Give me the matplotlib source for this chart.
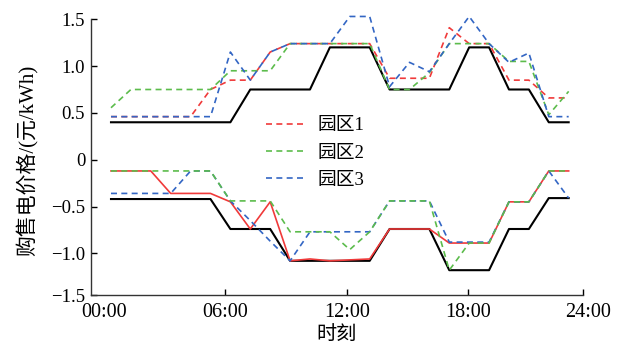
import numpy as np
import matplotlib
matplotlib.use("Agg")
import matplotlib.pyplot as plt

plt.rcParams['font.family'] = ['Liberation Serif', 'Noto Sans CJK SC', 'DejaVu Sans']
plt.rcParams['axes.unicode_minus'] = True

# hourly periods (index 0..23)
periods = np.arange(24)

grid_buy = [0.40, 0.40, 0.40, 0.40, 0.40, 0.40, 0.40, 0.75, 0.75, 0.75, 0.75, 1.20,
            1.20, 1.20, 0.75, 0.75, 0.75, 0.75, 1.20, 1.20, 0.75, 0.75, 0.40, 0.40]
grid_sell = [-0.42, -0.42, -0.42, -0.42, -0.42, -0.42, -0.74, -0.74, -0.74, -1.08, -1.08, -1.08,
             -1.08, -1.08, -0.74, -0.74, -0.74, -1.18, -1.18, -1.18, -0.74, -0.74, -0.41, -0.41]

park1_buy = [0.46, 0.46, 0.46, 0.46, 0.46, 0.75, 0.85, 0.85, 1.15, 1.24, 1.24, 1.24,
             1.24, 1.24, 0.87, 0.87, 0.87, 1.41, 1.24, 1.24, 0.85, 0.85, 0.66, 0.66]
park2_buy = [0.555, 0.75, 0.75, 0.75, 0.75, 0.75, 0.95, 0.95, 0.95, 1.24, 1.24, 1.24,
             1.24, 1.24, 0.75, 0.75, 0.93, 1.24, 1.24, 1.24, 1.05, 1.05, 0.48, 0.73]
park3_buy = [0.46, 0.46, 0.46, 0.46, 0.46, 0.46, 1.15, 0.85, 1.15, 1.24, 1.24, 1.24,
             1.53, 1.53, 0.78, 1.04, 0.94, 1.24, 1.53, 1.24, 1.04, 1.14, 0.46, 0.46]

park1_sell = [-0.12, -0.12, -0.12, -0.36, -0.36, -0.36, -0.45, -0.74, -0.45, -1.08, -1.06, -1.08,
              -1.07, -1.06, -0.74, -0.74, -0.74, -0.89, -0.89, -0.89, -0.45, -0.45, -0.12, -0.12]
park2_sell = [-0.12, -0.12, -0.12, -0.12, -0.12, -0.12, -0.44, -0.44, -0.44, -0.77, -0.77, -0.77,
              -0.96, -0.77, -0.44, -0.44, -0.44, -1.18, -0.89, -0.89, -0.45, -0.45, -0.12, -0.12]
park3_sell = [-0.36, -0.36, -0.36, -0.36, -0.12, -0.12, -0.44, -0.65, -0.87, -1.08, -0.77, -0.77,
              -0.77, -0.77, -0.44, -0.44, -0.44, -0.88, -0.88, -0.88, -0.45, -0.45, -0.12, -0.41]

legend_labels = ['园区1', '园区2', '园区3']
xtick_labels = ['00:00', '06:00', '12:00', '18:00', '24:00']
ytick_labels = ['−1.5', '−1.0', '−0.5', '0', '0.5', '1.0', '1.5']

RED = '#f03a3a'
GREEN = '#5cbc4c'
BLUE = '#3366c4'
dash = (0, (3.6, 2.6))

fig = plt.figure(figsize=(6.24, 3.46), dpi=100)
ax = fig.add_axes([90.7/624, 1-295/346, (583-90.7)/624, (295-19)/346])

kw = dict(clip_on=False)
ax.plot(periods, grid_buy, color='black', lw=1.5, zorder=2, **kw)
ax.plot(periods, grid_sell, color='black', lw=1.5, zorder=2, **kw)

l1, = ax.plot(periods, park1_buy, color=RED, lw=1.2, linestyle=dash, zorder=3, **kw)
l2, = ax.plot(periods, park2_buy, color=GREEN, lw=1.2, linestyle=dash, zorder=3, **kw)
l3, = ax.plot(periods, park3_buy, color=BLUE, lw=1.2, linestyle=dash, zorder=3, **kw)

ax.plot(periods, park1_sell, color=RED, lw=1.2, zorder=3, **kw)
ax.plot(periods, park3_sell, color=BLUE, lw=1.2, linestyle=dash, zorder=3, **kw)
ax.plot(periods, park2_sell, color=GREEN, lw=1.2, linestyle=dash, zorder=3, **kw)

# axis limits (index units)
ax.set_xlim(-1.02, 23.72)
ax.set_ylim(-1.445, 1.503)

xt_pos = [-0.35, 5.74, 11.87, 17.95, 23.72]
ax.set_xticks(xt_pos)
ax.set_xticklabels(xtick_labels[:4] + [''])
ax.xaxis.get_major_ticks()[0].tick1line.set_visible(False)
ax.annotate(xtick_labels[4], xy=(23.97, 0), xycoords=('data', 'axes fraction'),
            xytext=(0, -6), textcoords='offset points', ha='center', va='top',
            fontsize=14.5, annotation_clip=False)

ax.set_yticks([-1.445, -1.0, -0.5, 0, 0.5, 1.0, 1.5])
ax.set_yticklabels(ytick_labels)

ax.tick_params(axis='x', direction='in', length=4, width=1, pad=6, labelsize=14.5)
ax.tick_params(axis='y', direction='in', length=4, width=1, pad=4, labelsize=13.5)
for s in ['top', 'right']:
    ax.spines[s].set_visible(False)
for s in ['left', 'bottom']:
    ax.spines[s].set_linewidth(1.0)
    ax.spines[s].set_color('#333333')

leg = fig.legend([l1, l2, l3], legend_labels, loc='upper left',
                 bbox_to_anchor=(266/624, 1-117/346), frameon=False,
                 fontsize=13.5, handlelength=2.2, handletextpad=0.55,
                 labelspacing=0.55, borderpad=0, borderaxespad=0)

fig.text(27.5/624, 1-160/346, '购售电价格/(元/kWh)', rotation=90, ha='center', va='center', fontsize=15)
fig.text(337/624, 1-335/346, '时刻', ha='center', va='center', fontsize=14.5)

fig.savefig('out.png', dpi=100)
